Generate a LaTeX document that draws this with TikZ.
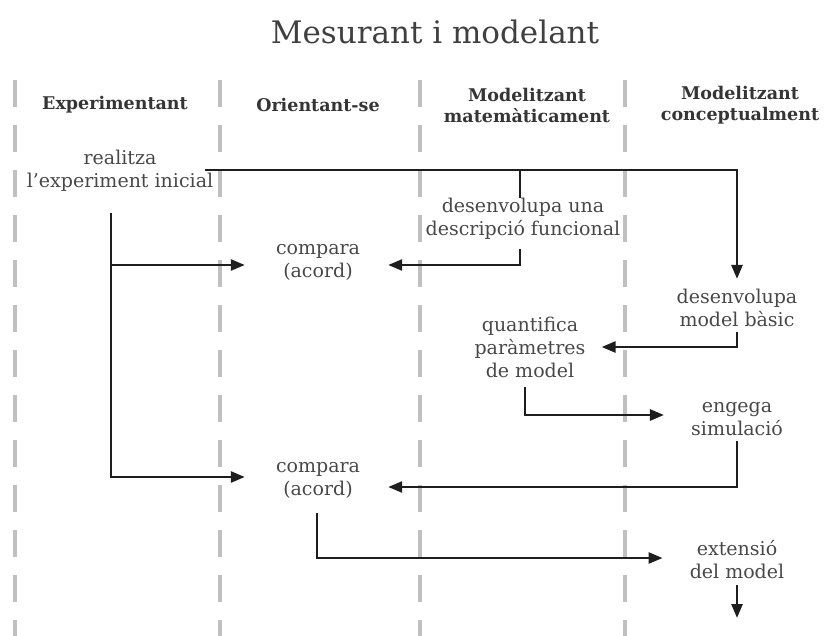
\documentclass[tikz,border=0pt]{standalone}
\usepackage{fontspec}
\setmainfont{DejaVu Serif}
\usetikzlibrary{arrows.meta}
\definecolor{lanegray}{RGB}{192,192,192}
\definecolor{txtgray}{RGB}{72,72,72}
\definecolor{ink}{RGB}{30,30,30}
\begin{document}
\begin{tikzpicture}[x=1pt,y=-1pt,
  lane/.style={draw=lanegray, line width=4pt, dash pattern=on 27pt off 18pt},
  head/.style={text=ink!90, font=\fontsize{17.5}{21}\selectfont\bfseries, align=center},
  act/.style={text=txtgray, font=\fontsize{19}{23}\selectfont, align=center, inner sep=0pt},
  flow/.style={draw=ink, line width=2.6pt},
  arr/.style={flow, -{Triangle[length=14pt,width=11pt]}}]
\useasboundingbox (0,0) rectangle (826,636);

% title
\node[text=ink!85, font=\fontsize{31}{34}\selectfont] (title) at (435,32) {Mesurant i modelant};

% swimlane separators
\foreach \x in {15,220,420,625}
  \draw[lane] (\x,80) -- (\x,636);

% lane headings
\node[head] (h1) at (115,105) {Experimentant};
\node[head] (h2) at (318,105) {Orientant-se};
\node[head] (h3) at (527,105) {Modelitzant\\matemàticament};
\node[head] (h4) at (740,105) {Modelitzant\\conceptualment};

% activities
\node[act] (real)  at (120,171) {realitza\\l’experiment inicial};
\node[act] (desc)  at (523,219) {desenvolupa una\\descripció funcional};
\node[act] (cmpA)  at (318,262) {compara\\(acord)};
\node[act] (dmb)   at (737,308) {desenvolupa\\model bàsic};
\node[act] (quant) at (530,347) {quantifica\\paràmetres\\de model};
\node[act] (eng)   at (737,419) {engega\\simulació};
\node[act] (cmpB)  at (318,480) {compara\\(acord)};
\node[act] (ext)   at (737,560) {extensió\\del model};
\coordinate (out) at (737,618);

% connectors (canvas yshift: positive is up)
\draw[arr] ([xshift=-8pt,yshift=1pt]real.east) -| ([yshift=10pt]dmb.north);
\draw[flow] ([xshift=-3pt]desc.north) -- ([xshift=-3pt,yshift=1pt]desc.north |- real.east);
\draw[arr] ([xshift=-3pt,yshift=-9pt]desc.south) |- ([xshift=28pt,yshift=-3pt]cmpA.east);
\draw[arr] ([xshift=-9pt,yshift=-21pt]real.south) |- ([xshift=-31pt,yshift=3pt]cmpB.west);
\draw[arr] ([xshift=-9pt,yshift=-3pt]real.south |- cmpA.west) -- ([xshift=-31pt,yshift=-3pt]cmpA.west);
\draw[arr] ([yshift=-5pt]dmb.south) |- ([xshift=16pt]quant.east);
\draw[arr] ([xshift=-5pt,yshift=-9pt]quant.south) |- ([xshift=-27pt,yshift=4pt]eng.west);
\draw[arr] ([yshift=-5pt]eng.south) |- ([xshift=28pt,yshift=-7pt]cmpB.east);
\draw[arr] ([xshift=-1pt,yshift=-15pt]cmpB.south) |- ([xshift=-27pt,yshift=2pt]ext.west);
\draw[arr] ([yshift=-6pt]ext.south) -- (out);
\end{tikzpicture}
\end{document}
